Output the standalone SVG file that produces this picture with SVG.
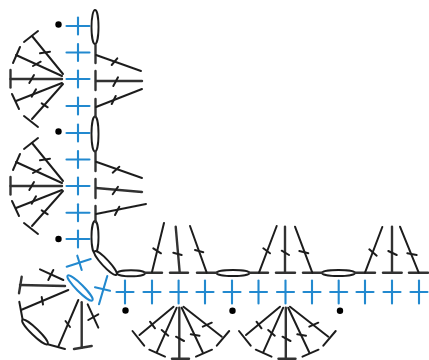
<svg xmlns="http://www.w3.org/2000/svg" width="429" height="360" viewBox="0 0 429 360">
<style>
line,path{fill:none;stroke:#1f1f1f;stroke-width:2;stroke-linecap:round}
.b{stroke:#333;stroke-width:2.4}
.o{fill:#fff;stroke:#1f1f1f;stroke-width:1.9}
.p line,.p path{stroke:#2389cf;stroke-width:2.1}
.bo{fill:#fff;stroke:#2389cf;stroke-width:2.1}
.d{fill:#000;stroke:none}
</style>
<defs>
<filter id="soft" x="0" y="0" width="100%" height="100%" filterUnits="userSpaceOnUse" primitiveUnits="userSpaceOnUse"><feGaussianBlur stdDeviation="0.35"/></filter>
<g id="plus" class="p"><line x1="-11.5" x2="11.5" y1="0" y2="0"/><line x1="0" x2="0" y1="-8.5" y2="8.5"/></g>
<g id="plusv" class="p"><line x1="-8.5" x2="8.5" y1="0" y2="0"/><line x1="0" x2="0" y1="-11.5" y2="11.5"/></g>
<g id="fanL">
<line x1="63" y1="74" x2="32" y2="36"/><line x1="24" y1="42" x2="38" y2="31"/><line x1="40" y1="53.3" x2="50" y2="51.7"/>
<line x1="62" y1="76" x2="16" y2="55"/><line x1="13" y1="63" x2="20" y2="47"/><line x1="33" y1="66" x2="40.7" y2="61.7"/>
<line class="b" x1="62" y1="79" x2="10.5" y2="79"/><line class="b" x1="10.5" y1="70" x2="10.5" y2="87.5"/><line x1="29.3" y1="83" x2="34" y2="75"/>
<line x1="62" y1="83" x2="16" y2="101"/><line x1="12" y1="94" x2="19" y2="109"/><line x1="31.7" y1="96.7" x2="36" y2="89.3"/>
<line x1="63" y1="84" x2="32" y2="119"/><line x1="24" y1="116" x2="38" y2="127"/><line x1="41.7" y1="103.3" x2="47.7" y2="107.3"/>
</g>
<g id="fanB">
<line x1="173.5" y1="306.7" x2="139.5" y2="335"/><line x1="132.5" y1="331" x2="144.2" y2="345.7"/><line x1="150" y1="321.7" x2="155" y2="328.3"/>
<line x1="176.7" y1="307.7" x2="156.7" y2="352.3"/><line x1="149.3" y1="349.7" x2="165" y2="356.7"/><line x1="161.7" y1="330" x2="168.3" y2="335.7"/>
<line class="b" x1="179.3" y1="307.7" x2="179.3" y2="358.5"/><line class="b" x1="172" y1="358.7" x2="189" y2="358.7"/><line x1="176" y1="336.7" x2="184" y2="341"/>
<line x1="181.7" y1="307.7" x2="202.7" y2="352.3"/><line x1="212" y1="349.7" x2="196" y2="356.7"/><line x1="190.8" y1="334.3" x2="199.5" y2="335.7"/>
<line x1="183.5" y1="306.7" x2="221.8" y2="336.7"/><line x1="229.2" y1="331" x2="216.8" y2="345.7"/><line x1="202.8" y1="326.7" x2="211.8" y2="322.7"/>
</g>
</defs>
<g filter="url(#soft)">
<g id="rows">
<use href="#plus" x="78" y="26"/><use href="#plus" x="78" y="52.5"/><use href="#plus" x="78" y="79"/><use href="#plus" x="78" y="106"/>
<use href="#plus" x="78" y="133"/><use href="#plus" x="78" y="159.5"/><use href="#plus" x="78" y="186"/><use href="#plus" x="78" y="212.7"/><use href="#plus" x="78" y="239"/>
<use href="#plusv" x="125" y="292"/><use href="#plusv" x="152" y="292"/><use href="#plusv" x="178.6" y="292"/><use href="#plusv" x="205" y="292"/><use href="#plusv" x="232" y="292"/><use href="#plusv" x="258.5" y="292"/><use href="#plusv" x="285.5" y="292"/><use href="#plusv" x="312" y="292"/><use href="#plusv" x="338.7" y="292"/><use href="#plusv" x="365" y="292"/><use href="#plusv" x="392" y="292"/><use href="#plusv" x="419" y="292"/>
<g class="p"><line x1="66.7" y1="266.7" x2="90.7" y2="259"/><line x1="77.3" y1="255.7" x2="81.7" y2="270"/>
<line x1="95" y1="287.3" x2="110" y2="290.7"/><line x1="107.3" y1="276" x2="99" y2="304.3"/></g>
<ellipse class="bo" cx="80" cy="288" rx="17.5" ry="3.5" transform="rotate(45 80 288)"/>
</g>
<g id="dots">
<circle class="d" cx="58.5" cy="24.5" r="3.2"/><circle class="d" cx="58.5" cy="131.5" r="3.2"/><circle class="d" cx="58.5" cy="239" r="3.2"/>
<circle class="d" cx="125.5" cy="310.5" r="3.2"/><circle class="d" cx="232.5" cy="310.7" r="3.2"/><circle class="d" cx="340" cy="310.7" r="3.2"/>
</g>
<g id="fans">
<use href="#fanL"/><use href="#fanL" y="107"/>
<use href="#fanB"/><use href="#fanB" x="106.5"/>
</g>
<g id="left-edge">
<ellipse class="o" cx="95" cy="27" rx="3.5" ry="17"/><ellipse class="o" cx="95" cy="134" rx="3.5" ry="17.5"/><ellipse class="o" cx="95" cy="237" rx="3.5" ry="16"/>
<line class="b" x1="95.5" y1="45" x2="95.5" y2="63"/><line x1="96" y1="55" x2="141" y2="71"/><line x1="111.7" y1="65" x2="117.3" y2="58.3"/>
<line class="b" x1="95.5" y1="71" x2="95.5" y2="90"/><line class="b" x1="96" y1="81" x2="142" y2="81"/><line x1="113.3" y1="86" x2="118" y2="77.3"/>
<line class="b" x1="95.5" y1="99" x2="95.5" y2="117"/><line x1="96" y1="107" x2="142" y2="89"/><line x1="111.7" y1="104" x2="115.7" y2="96"/>
<line class="b" x1="95.5" y1="152" x2="95.5" y2="171"/><line x1="96" y1="161.7" x2="142" y2="178"/><line x1="112.7" y1="172.7" x2="119.3" y2="166.7"/>
<line class="b" x1="95.5" y1="179" x2="95.5" y2="198"/><line class="b" x1="96" y1="188" x2="142" y2="192"/><line x1="112.7" y1="194.3" x2="118" y2="186.7"/>
<line class="b" x1="95.5" y1="206" x2="95.5" y2="222"/><line x1="96" y1="214" x2="146" y2="204"/><line x1="115" y1="215" x2="119.3" y2="206.7"/>
</g>
<g id="bottom-edge">
<ellipse class="o" cx="105.5" cy="263" rx="16" ry="3.5" transform="rotate(47 105.5 263)"/>
<ellipse class="o" cx="131" cy="273.3" rx="14" ry="3"/><ellipse class="o" cx="233" cy="273" rx="16.5" ry="3"/><ellipse class="o" cx="338.5" cy="273" rx="16.5" ry="3"/>
<line class="b" x1="145" y1="272.7" x2="162" y2="272.7"/><line x1="152" y1="272" x2="164" y2="223"/><line x1="153.3" y1="248.3" x2="161" y2="253.3"/>
<line class="b" x1="170" y1="272.7" x2="188" y2="272.7"/><line class="b" x1="179.7" y1="272.7" x2="175.7" y2="226.7"/><line x1="173.3" y1="252.7" x2="181.7" y2="255"/>
<line class="b" x1="197" y1="272.7" x2="217" y2="272.7"/><line x1="206.7" y1="272.7" x2="190" y2="226"/><line x1="195" y1="250" x2="203.3" y2="252.3"/>
<line class="b" x1="249" y1="272.7" x2="268" y2="272.7"/><line x1="259" y1="272.7" x2="276.7" y2="226"/><line x1="263.3" y1="248.3" x2="270" y2="253.3"/>
<line class="b" x1="276" y1="272.7" x2="295" y2="272.7"/><line class="b" x1="285" y1="272.7" x2="285" y2="226.7"/><line x1="281.7" y1="250.7" x2="289" y2="255"/>
<line class="b" x1="303" y1="272.7" x2="322" y2="272.7"/><line x1="312.3" y1="272.7" x2="295" y2="226.7"/><line x1="299.3" y1="251" x2="308.3" y2="253.3"/>
<line class="b" x1="355" y1="272.7" x2="375" y2="272.7"/><line x1="365" y1="272.7" x2="382.3" y2="227"/><line x1="369.3" y1="249.3" x2="376.7" y2="255.7"/>
<line class="b" x1="383" y1="272.7" x2="401.7" y2="272.7"/><line class="b" x1="392" y1="272.7" x2="392" y2="226.7"/><line x1="388.3" y1="251" x2="396.7" y2="255"/>
<line class="b" x1="409" y1="272.7" x2="428" y2="272.7"/><line x1="418.7" y1="272.7" x2="400" y2="226.7"/><line x1="407.3" y1="253.3" x2="416.7" y2="255"/>
</g>
<g id="corner">
<line x1="63.3" y1="280" x2="40" y2="269.3"/><line x1="53.3" y1="270" x2="48.3" y2="280"/>
<line class="b" x1="65" y1="286" x2="20" y2="285"/><line class="b" x1="21.7" y1="276.7" x2="19" y2="293.3"/>
<line x1="68.3" y1="290" x2="21" y2="310"/><line x1="19.3" y1="301.7" x2="22.7" y2="320"/><line x1="41.7" y1="297" x2="43" y2="304.5"/>
<ellipse class="o" cx="35" cy="332" rx="17.5" ry="3.5" transform="rotate(44 35 332)"/>
<line x1="47.7" y1="344.3" x2="65" y2="349"/>
<line x1="78.3" y1="300" x2="58.3" y2="346.7"/><line x1="65.5" y1="321" x2="70" y2="327"/>
<line class="b" x1="81.7" y1="302.3" x2="81.7" y2="347.7"/><line class="b" x1="74" y1="349" x2="91.7" y2="346"/>
<line x1="87.7" y1="304.3" x2="98.3" y2="327.7"/><line x1="88.3" y1="320" x2="98.3" y2="314.3"/>
</g>
</g>
</svg>
